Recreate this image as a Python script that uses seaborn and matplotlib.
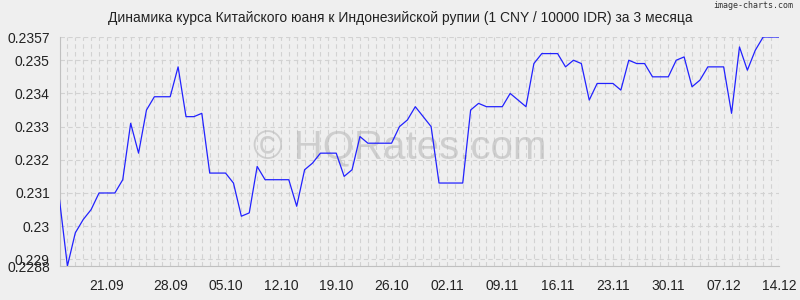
import matplotlib
matplotlib.use("Agg")
import matplotlib.pyplot as plt
import seaborn as sns
import pandas as pd
import numpy as np

values = [
    0.2308, 0.2288, 0.2298, 0.2302, 0.2305, 0.2310, 0.2310, 0.2310, 0.2314, 0.2331,
    0.2322, 0.2335, 0.2339, 0.2339, 0.2339, 0.2348, 0.2333, 0.2333, 0.2334, 0.2316,
    0.2316, 0.2316, 0.2313, 0.2303, 0.2304, 0.2318, 0.2314, 0.2314, 0.2314, 0.2314,
    0.2306, 0.2317, 0.2319, 0.2322, 0.2322, 0.2322, 0.2315, 0.2317, 0.2327, 0.2325,
    0.2325, 0.2325, 0.2325, 0.2330, 0.2332, 0.2336, 0.2333, 0.2330, 0.2313, 0.2313,
    0.2313, 0.2313, 0.2335, 0.2337, 0.2336, 0.2336, 0.2336, 0.2340, 0.2338, 0.2336,
    0.2349, 0.2352, 0.2352, 0.2352, 0.2348, 0.2350, 0.2349, 0.2338, 0.2343, 0.2343,
    0.2343, 0.2341, 0.2350, 0.2349, 0.2349, 0.2345, 0.2345, 0.2345, 0.2350, 0.2351,
    0.2342, 0.2344, 0.2348, 0.2348, 0.2348, 0.2334, 0.2354, 0.2347, 0.2353, 0.2357,
    0.2357, 0.2357,
]
tick_labels = ["21.09", "28.09", "05.10", "12.10", "19.10", "26.10", "02.11",
               "09.11", "16.11", "23.11", "30.11", "07.12", "14.12"]
tick_index = [6, 14, 21, 28, 35, 42, 49, 56, 63, 70, 77, 84, 91]
y_ticks = [0.2288, 0.229, 0.23, 0.231, 0.232, 0.233, 0.234, 0.235, 0.2357]
y_tick_labels = ["0.2288", "0.229", "0.23", "0.231", "0.232", "0.233", "0.234", "0.235", "0.2357"]
title = "Динамика курса Китайского юаня к Индонезийской рупии (1 CNY / 10000 IDR) за 3 месяца"

df = pd.DataFrame({"idx": np.arange(len(values)), "rate": values})

sns.set_theme(style="white")
plt.rcParams["font.family"] = ["Liberation Sans", "DejaVu Sans"]
bg = "#efefef"
fig = plt.figure(figsize=(8, 3), dpi=100, facecolor=bg)
ax = fig.add_axes([59.5 / 800, 1 - 266 / 300, (779 - 59.5) / 800, (266 - 37) / 300])
ax.set_facecolor(bg)

# watermark (drawn in figure coordinates, behind the line)
ax.text(400 / 800, 1 - 148 / 300, "© HQRates.com", transform=fig.transFigure, fontsize=29,
        color="#b8b8b8", alpha=0.6, ha="center", va="center", zorder=1,
        family=["Liberation Sans", "DejaVu Sans"])

sns.lineplot(data=df, x="idx", y="rate", ax=ax, color="#2222ff", linewidth=0.9, zorder=3)

ax.set_xlim(0, len(values) - 1)
ax.set_ylim(min(values), max(values))
ax.set_xticks(tick_index)
ax.set_xticklabels(tick_labels)
ax.set_xticks(np.arange(len(values)), minor=True)
ax.set_yticks(y_ticks)
ax.set_yticklabels(y_tick_labels)
ax.set_xlabel("")
ax.set_ylabel("")

grid_kw = dict(color="#d2d2d2", linewidth=0.8, linestyle=(0, (4, 3)))
ax.grid(True, which="minor", axis="x", **grid_kw)
ax.grid(True, which="major", axis="x", **grid_kw)
ax.grid(True, which="major", axis="y", **grid_kw)

for s in ["top", "right"]:
    ax.spines[s].set_visible(False)
for s in ["left", "bottom"]:
    ax.spines[s].set_color("#c0c0c0")
    ax.spines[s].set_linewidth(0.8)

ax.tick_params(axis="x", which="both", direction="out", length=7, width=0.7,
               color="#d2d2d2", labelsize=10, labelcolor="#222222", pad=2)
ax.tick_params(axis="y", which="major", direction="out", length=4, width=0.7,
               color="#c0c0c0", labelsize=10, labelcolor="#222222", pad=3)

fig.text(0.5, 1 - 18 / 300, title, ha="center", va="center", fontsize=10, color="#222222")
fig.text(0.991, 1 - 6 / 300, "image-charts.com", ha="right", va="center", fontsize=6,
         color="#333333", family="DejaVu Sans Mono")

fig.savefig("out.png", dpi=100, facecolor=bg)
